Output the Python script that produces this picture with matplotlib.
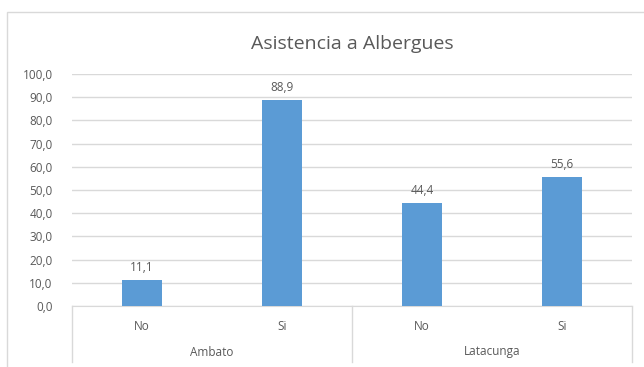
import matplotlib.pyplot as plt
import matplotlib.transforms as mtransforms
from matplotlib.patches import Rectangle

# datos
grupos = ["Ambato", "Latacunga"]
respuestas = ["No", "Si", "No", "Si"]
valores = [11.1, 88.9, 44.4, 55.6]
titulo = "Asistencia a Albergues"

azul = "#5B9BD5"
gris = "#595959"
rejilla = "#D9D9D9"

plt.rcParams['font.family'] = ['Open Sans', 'DejaVu Sans']

fig = plt.figure(figsize=(6.44, 3.67), dpi=100)
# marco exterior del grafico
fig.patches.append(Rectangle((7/644, -0.05), 2.0, 1 - 12/367 + 0.05,
                             transform=fig.transFigure, fill=False,
                             edgecolor=rejilla, linewidth=1.0))
ax = fig.add_axes([72/644, 1 - 306/367, 560/644, 232/367])

x = range(len(valores))
ax.bar(x, valores, width=0.29, color=azul, zorder=3)
for xi, v in zip(x, valores):
    ax.text(xi, v + 2.5, f"{v:.1f}".replace(".", ","), ha="center",
            va="bottom", fontsize=8.5, color=gris)

ax.set_xlim(-0.5, len(valores) - 0.5)
ax.set_ylim(0, 100)
ax.set_yticks(range(0, 101, 10))
ax.set_yticklabels([f"{t:.1f}".replace(".", ",") for t in range(0, 101, 10)],
                   fontsize=8.5, color=gris)
ax.yaxis.grid(True, color=rejilla, linewidth=1.0, zorder=0)
ax.tick_params(axis="y", length=0, pad=14)
ax.set_xticks([])
for s in ["top", "right", "left"]:
    ax.spines[s].set_visible(False)
ax.spines["bottom"].set_color(rejilla)

# eje de categorias en dos niveles
trans = mtransforms.blended_transform_factory(ax.transData, fig.transFigure)
for xi, r in zip(x, respuestas):
    ax.text(xi, 1 - 326/367, r, transform=trans, ha="center", va="center",
            fontsize=8.5, color=gris)
for i, g in enumerate(grupos):
    ax.text(2 * i + 0.5, 1 - 352/367, g, transform=trans, ha="center",
            va="center", fontsize=8.5, color=gris)
for xs in [-0.5, 1.5, 3.5]:
    ax.plot([xs, xs], [1 - 306/367, 1 - 362/367], transform=trans,
            color=rejilla, linewidth=1.0, clip_on=False)

fig.text(352/644, 1 - 44/367, titulo, ha="center", va="center",
         fontsize=14, color=gris)

fig.savefig("out.png", dpi=100)
